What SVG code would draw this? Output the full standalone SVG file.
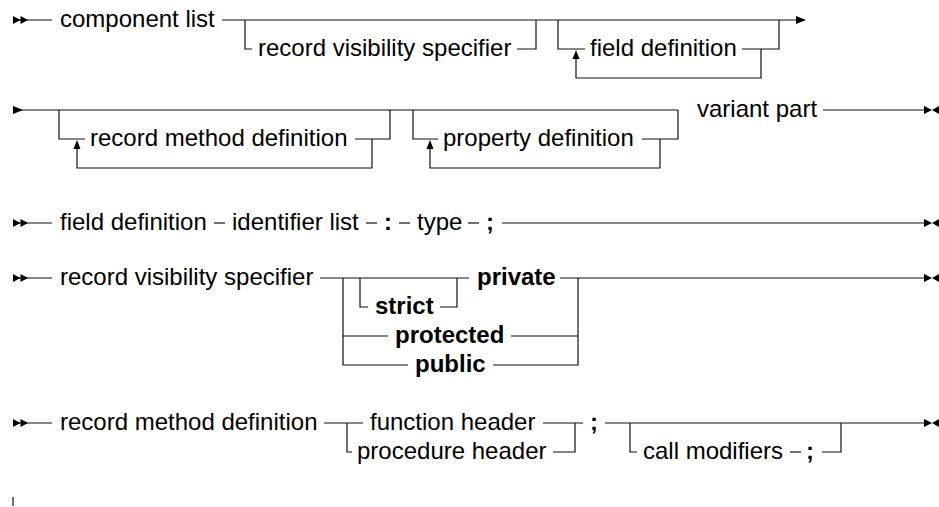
<svg xmlns="http://www.w3.org/2000/svg" width="939" height="507" viewBox="0 0 939 507">
<style>
text{font-family:"Liberation Sans",Arial,sans-serif;font-size:24px;fill:#000}
.b{font-weight:bold}
.c path,.c line{fill:none;stroke:#111;stroke-width:1.2}
.h{fill:#000;stroke:none}
</style>
<defs>
<path id="s2" class="h" d="M0,-4 L7.5,0 L0,4 Z M7.5,-4 L15,0 L7.5,4 Z"/>
<path id="s1" class="h" d="M0,-4 L10,0 L0,4 Z"/>
<path id="ar" class="h" d="M-10,-4 L0,0 L-10,4 Z"/>
<path id="en" class="h" d="M-8,-4 L0,0 L-8,4 Z M7,-4 L0,0 L7,4 Z"/>
<path id="up" class="h" d="M-3.5,9 L0,0 L3.5,9 Z"/>
</defs>

<g id="connectors" class="c">
<!-- row 1 -->
<line x1="13" y1="20" x2="52" y2="20"/>
<line x1="222" y1="20" x2="796" y2="20"/>
<path d="M245,20 V49 H252"/>
<path d="M517,49 H536 V20"/>
<path d="M558,20 V49 H585"/>
<path d="M761,49 V78 H576 V56"/>
<path d="M742,49 H779 V20"/>
<!-- row 2 -->
<line x1="13" y1="110" x2="678" y2="110"/>
<path d="M59,110 V139 H85"/>
<path d="M372,139 V168 H77 V146"/>
<path d="M355,139 H390 V110"/>
<path d="M413,110 V139 H438"/>
<path d="M660,139 V168 H430 V146"/>
<path d="M642,139 H678 V110"/>
<line x1="823" y1="110" x2="926" y2="110"/>
<!-- row 3 -->
<line x1="13" y1="223" x2="52" y2="223"/>
<line x1="214" y1="223" x2="225" y2="223"/>
<line x1="366" y1="223" x2="377" y2="223"/>
<line x1="399" y1="223" x2="410" y2="223"/>
<line x1="468" y1="223" x2="479" y2="223"/>
<line x1="502" y1="223" x2="926" y2="223"/>
<!-- row 4 -->
<line x1="13" y1="278" x2="52" y2="278"/>
<line x1="320" y1="278" x2="469" y2="278"/>
<line x1="560" y1="278" x2="926" y2="278"/>
<path d="M360,278 V307 H368"/>
<path d="M440,307 H457 V278"/>
<path d="M343,278 V365 H408"/>
<path d="M343,336 H388"/>
<path d="M511,336 H578"/>
<path d="M493,365 H578 V278"/>
<!-- row 5 -->
<line x1="13" y1="423" x2="52" y2="423"/>
<line x1="324" y1="423" x2="363" y2="423"/>
<path d="M347,423 V452 H352"/>
<line x1="543" y1="423" x2="583" y2="423"/>
<path d="M553,452 H575 V423"/>
<line x1="605" y1="423" x2="926" y2="423"/>
<path d="M630,423 V452 H637"/>
<line x1="790" y1="452" x2="801" y2="452"/>
<path d="M822,452 H841 V423"/>
<line x1="13" y1="497" x2="13" y2="506"/>
<!-- heads -->
<use href="#s2" x="13" y="20"/>
<use href="#ar" x="806" y="20"/>
<use href="#up" x="576" y="50"/>
<use href="#s1" x="13" y="110"/>
<use href="#up" x="77" y="140"/>
<use href="#up" x="430" y="140"/>
<use href="#en" x="932" y="110"/>
<use href="#s2" x="13" y="223"/>
<use href="#en" x="932" y="223"/>
<use href="#s2" x="13" y="278"/>
<use href="#en" x="932" y="278"/>
<use href="#s2" x="13" y="423"/>
<use href="#en" x="932" y="423"/>
</g>

<g id="n-component-list"><text x="60" y="27">component list</text></g>
<g id="n-rvs1"><text x="258" y="56">record visibility specifier</text></g>
<g id="n-fd1"><text x="590" y="56">field definition</text></g>
<g id="n-rmd1"><text x="90" y="146">record method definition</text></g>
<g id="n-pd"><text x="443" y="146">property definition</text></g>
<g id="n-vp"><text x="697" y="117">variant part</text></g>

<g id="n-fd2"><text x="60" y="230">field definition</text></g>
<g id="n-il"><text x="232" y="230">identifier list</text></g>
<g id="n-colon"><text class="b" x="384" y="230">:</text></g>
<g id="n-type"><text x="417" y="230">type</text></g>
<g id="n-semi1"><text class="b" x="486" y="230">;</text></g>

<g id="n-rvs2"><text x="60" y="285">record visibility specifier</text></g>
<g id="n-private"><text class="b" x="477" y="285">private</text></g>
<g id="n-strict"><text class="b" x="375" y="314">strict</text></g>
<g id="n-protected"><text class="b" x="395" y="343">protected</text></g>
<g id="n-public"><text class="b" x="415" y="372">public</text></g>

<g id="n-rmd2"><text x="60" y="430">record method definition</text></g>
<g id="n-fh"><text x="370" y="430">function header</text></g>
<g id="n-ph"><text x="357" y="459">procedure header</text></g>
<g id="n-semi2"><text class="b" x="590" y="430">;</text></g>
<g id="n-cm"><text x="643" y="459">call modifiers</text></g>
<g id="n-semi3"><text class="b" x="806" y="459">;</text></g>
</svg>
